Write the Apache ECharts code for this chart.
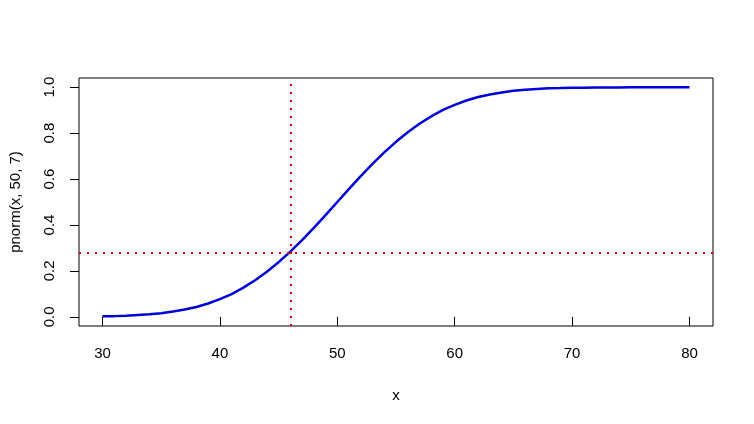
<!DOCTYPE html>
<html>
<head>
<meta charset="utf-8">
<script src="https://cdn.jsdelivr.net/npm/echarts@6/dist/echarts.min.js"></script>
<style>
  html, body { margin: 0; padding: 0; background: #fff; }
  #chart { width: 754px; height: 424px; }
</style>
</head>
<body>
<div id="chart"></div>
<script>
// x values and the curve
const xs = [
  30, 31, 32, 33, 34, 35, 36, 37, 38, 39,
  40, 41, 42, 43, 44, 45, 46, 47, 48, 49,
  50, 51, 52, 53, 54, 55, 56, 57, 58, 59,
  60, 61, 62, 63, 64, 65, 66, 67, 68, 69,
  70, 71, 72, 73, 74, 75, 76, 77, 78, 79, 80
]
const ys = [
  0.002, 0.003, 0.005, 0.008, 0.011, 0.016, 0.023, 0.032, 0.043, 0.058,
  0.077, 0.099, 0.127, 0.159, 0.196, 0.238, 0.284, 0.334, 0.387, 0.443,
  0.500, 0.557, 0.613, 0.666, 0.716, 0.762, 0.804, 0.841, 0.873, 0.901,
  0.923, 0.942, 0.957, 0.968, 0.977, 0.984, 0.989, 0.992, 0.995, 0.996,
  0.998, 0.998, 0.999, 0.999, 0.999, 1.000, 1.000, 1.000, 1.000, 1.000, 1.000
]

// reference lines
const vLineX = 46
const hLineY = 0.284

// tick labels
const xTicks = [30, 40, 50, 60, 70, 80]
const yTicks = [0, 0.2, 0.4, 0.6, 0.8, 1.0]

const font = 'Liberation Sans, Arial, sans-serif'

const chart = echarts.init(document.getElementById('chart'))

chart.setOption({
  animation: false,
  backgroundColor: '#fff',

  grid: {
    left: 79,
    right: 41,
    top: 78,
    bottom: 98,
    show: true,
    borderColor: '#000',
    borderWidth: 1,
    backgroundColor: 'transparent'
  },

  xAxis: {
    type: 'value',
    min: 28,
    max: 82,
    name: 'x',
    nameLocation: 'middle',
    nameGap: 62,
    nameTextStyle: { color: '#000', fontSize: 15, fontFamily: font },
    axisLine: { show: false },
    splitLine: { show: false },
    axisTick: {
      show: true,
      length: 9,
      customValues: xTicks,
      lineStyle: { color: '#000', width: 1 }
    },
    axisLabel: {
      customValues: xTicks,
      color: '#000',
      fontSize: 15,
      fontFamily: font,
      margin: 20
    }
  },

  yAxis: {
    type: 'value',
    min: -0.04,
    max: 1.04,
    name: 'pnorm(x, 50, 7)',
    nameLocation: 'middle',
    nameRotate: 90,
    nameGap: 56,
    nameTextStyle: { color: '#000', fontSize: 15, fontFamily: font },
    axisLine: { show: false },
    splitLine: { show: false },
    axisTick: {
      show: true,
      length: 9,
      customValues: yTicks,
      lineStyle: { color: '#000', width: 1 }
    },
    axisLabel: {
      customValues: yTicks,
      rotate: 90,
      color: '#000',
      fontSize: 15,
      fontFamily: font,
      margin: 22,
      formatter: v => v.toFixed(1)
    }
  },

  series: [
    {
      type: 'line',
      data: xs.map((x, i) => [x, ys[i]]),
      showSymbol: false,
      silent: true,
      lineStyle: { color: '#0000d8', width: 2.5 },

      markLine: {
        silent: true,
        symbol: 'none',
        label: { show: false },
        lineStyle: { color: '#dd0000', width: 2, type: [2, 6] },
        data: [
          { xAxis: vLineX },
          { yAxis: hLineY }
        ]
      }
    }
  ]
})
</script>
</body>
</html>
